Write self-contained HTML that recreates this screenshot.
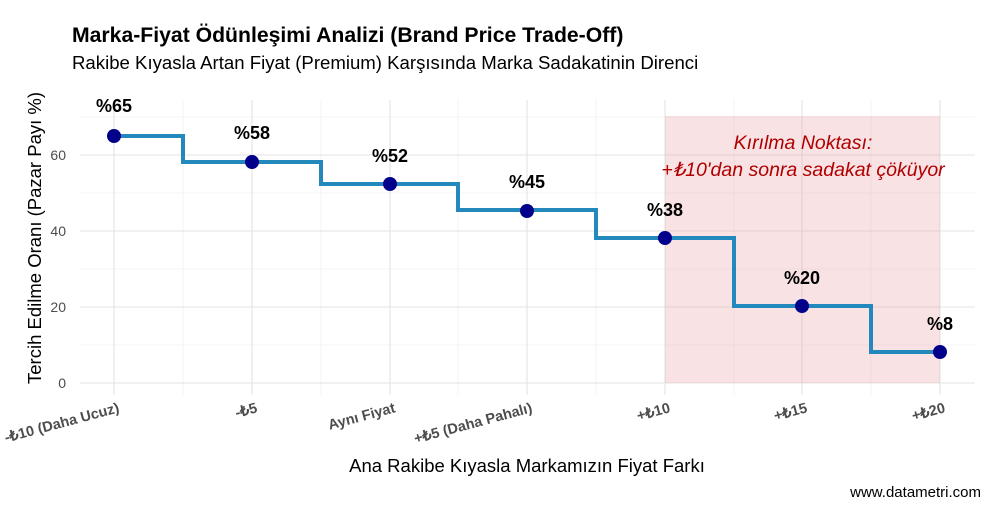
<!DOCTYPE html>
<html><head><meta charset="utf-8"><style>body{margin:0;background:#fff}svg{display:block;font-family:"Liberation Sans",sans-serif}</style></head>
<body>
<svg width="998" height="508" viewBox="0 0 998 508" xmlns="http://www.w3.org/2000/svg">
<rect width="998" height="508" fill="#fff"/>
<g stroke="#ebebeb" stroke-width="0.6">
<line x1="80" x2="975" y1="345" y2="345"/><line x1="80" x2="975" y1="269" y2="269"/><line x1="80" x2="975" y1="193" y2="193"/><line x1="80" x2="975" y1="117" y2="117"/>
<line x1="183" x2="183" y1="100" y2="395"/><line x1="321" x2="321" y1="100" y2="395"/><line x1="458" x2="458" y1="100" y2="395"/><line x1="596" x2="596" y1="100" y2="395"/><line x1="734" x2="734" y1="100" y2="395"/><line x1="871" x2="871" y1="100" y2="395"/>
</g>
<g stroke="#e3e3e3" stroke-width="1.1">
<line x1="80" x2="975" y1="383" y2="383"/><line x1="80" x2="975" y1="307" y2="307"/><line x1="80" x2="975" y1="231" y2="231"/><line x1="80" x2="975" y1="155" y2="155"/>
<line x1="114" x2="114" y1="100" y2="395"/><line x1="252" x2="252" y1="100" y2="395"/><line x1="390" x2="390" y1="100" y2="395"/><line x1="527" x2="527" y1="100" y2="395"/><line x1="665" x2="665" y1="100" y2="395"/><line x1="802" x2="802" y1="100" y2="395"/><line x1="940" x2="940" y1="100" y2="395"/>
</g>
<rect x="665" y="116" width="275" height="267" fill="#e8a0a4" fill-opacity="0.3"/>
<polyline fill="none" stroke="#2389bd" stroke-width="4" points="114,136 183,136 183,162 321,162 321,184 458,184 458,210 596,210 596,238 734,238 734,306 871,306 871,352 940,352"/>
<g fill="#00008b">
<circle cx="114" cy="136" r="7"/><circle cx="252" cy="162" r="7"/><circle cx="390" cy="184" r="7"/><circle cx="527" cy="211" r="7"/><circle cx="665" cy="238" r="7"/><circle cx="802" cy="306" r="7"/><circle cx="940" cy="352" r="7"/>
</g>
<g font-size="18" font-weight="bold" fill="#000" text-anchor="middle">
<text x="114" y="112">%65</text><text x="252" y="139">%58</text><text x="390" y="162">%52</text><text x="527" y="188">%45</text><text x="665" y="216">%38</text><text x="802" y="284">%20</text><text x="940" y="330">%8</text>
</g>
<g font-size="19.5" font-style="italic" fill="#b00000" text-anchor="middle">
<text x="803" y="149">Kırılma Noktası:</text><text x="803" y="176">+₺10'dan sonra sadakat çöküyor</text>
</g>
<g font-size="14" fill="#4d4d4d" text-anchor="end">
<text x="66" y="388">0</text><text x="66" y="312">20</text><text x="66" y="236">40</text><text x="66" y="160">60</text>
</g>
<g font-size="14.5" font-weight="bold" fill="#4d4d4d" text-anchor="end">
<text transform="translate(120,412) rotate(-15)">-₺10 (Daha Ucuz)</text>
<text transform="translate(258,412) rotate(-15)">-₺5</text>
<text transform="translate(396,412) rotate(-15)">Aynı Fiyat</text>
<text transform="translate(533,412) rotate(-15)">+₺5 (Daha Pahalı)</text>
<text transform="translate(671,412) rotate(-15)">+₺10</text>
<text transform="translate(808,412) rotate(-15)">+₺15</text>
<text transform="translate(946,412) rotate(-15)">+₺20</text>
</g>
<text x="527" y="472" font-size="18.5" fill="#000" text-anchor="middle">Ana Rakibe Kıyasla Markamızın Fiyat Farkı</text>
<text transform="translate(41,238) rotate(-90)" font-size="18.5" fill="#000" text-anchor="middle">Tercih Edilme Oranı (Pazar Payı %)</text>
<text x="72" y="42" font-size="21.2" font-weight="bold" fill="#000">Marka-Fiyat Ödünleşimi Analizi (Brand Price Trade-Off)</text>
<text x="72" y="69" font-size="18.6" fill="#000">Rakibe Kıyasla Artan Fiyat (Premium) Karşısında Marka Sadakatinin Direnci</text>
<text x="981" y="497" font-size="15" fill="#000" text-anchor="end">www.datametri.com</text>
</svg>
</body></html>
